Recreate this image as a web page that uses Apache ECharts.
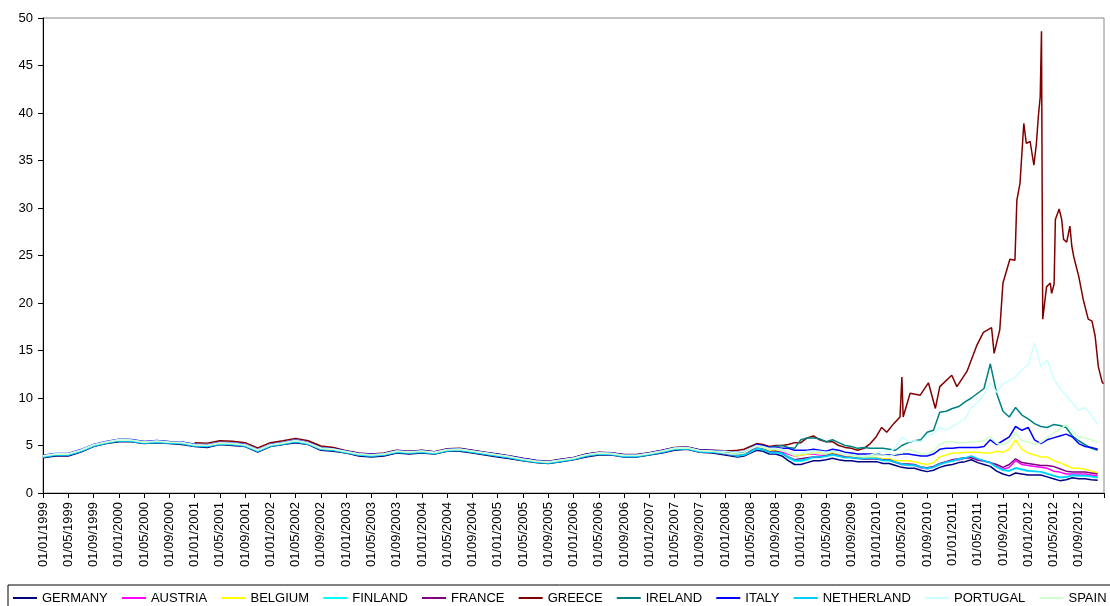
<!DOCTYPE html>
<html>
<head>
<meta charset="utf-8">
<title>10Y government bond yields</title>
<script src="https://cdn.jsdelivr.net/npm/echarts/dist/echarts.min.js"></script>
<style>
  html, body { margin: 0; padding: 0; background: #fff; }
  #chart { width: 1110px; height: 606px; }
</style>
</head>
<body>
<div id="chart"></div>
<script>
// x = months since 01/01/1999; bi-monthly to end 2007, monthly 2008-2012
const months = [];
for (let m = 0; m <= 106; m += 2) months.push(m);
for (let m = 108; m <= 167; m++) months.push(m);

const tickLabels = [];
for (let y = 1999; y <= 2012; y++) {
  for (const mm of ["01", "05", "09"]) tickLabels.push("01/" + mm + "/" + y);
}

const germany = [
  3.7,3.9,3.9,4.3,4.9,5.2,5.4,5.4,5.2,5.3,5.2,5.1,4.9,4.8,5.1,5.0,4.9,4.3,4.9,5.1,5.3,5.1,4.5,4.4,4.2,3.9,3.8,
  3.9,4.2,4.1,4.2,4.1,4.4,4.4,4.2,4.0,3.8,3.6,3.4,3.2,3.1,3.3,3.5,3.8,4.0,4.0,3.8,3.8,4.0,4.2,4.5,4.6,4.3,4.2,
  4.0,3.9,3.8,3.9,4.2,4.5,4.4,4.1,4.1,3.9,3.4,3.0,
  3.0,3.2,3.4,3.4,3.5,3.65,3.5,3.4,3.4,3.3,3.3,3.3,
  3.3,3.1,3.1,2.9,2.7,2.6,2.6,2.4,2.25,2.4,2.7,2.9,
  3.0,3.2,3.3,3.5,3.2,3.0,2.8,2.3,2.0,1.8,2.1,2.0,
  1.9,1.9,1.9,1.7,1.5,1.3,1.4,1.6,1.5,1.5,1.4,1.35
];
const austria = [
  3.87,4.07,4.07,4.47,5.02,5.32,5.57,5.52,5.32,5.42,5.32,5.27,5.02,4.97,5.22,5.17,5.02,4.47,5.02,5.22,5.47,5.22,4.67,4.57,4.32,4.07,3.97,
  4.07,4.37,4.27,4.37,4.22,4.52,4.57,4.37,4.17,3.97,3.77,3.52,3.32,3.22,3.42,3.62,3.97,4.17,4.12,3.92,3.92,4.12,4.37,4.67,4.72,4.42,4.37,
  4.15,4.05,4.0,4.1,4.4,4.75,4.6,4.35,4.4,4.3,4.1,3.9,
  4.0,4.1,4.1,4.0,4.0,4.15,4.0,3.85,3.75,3.65,3.6,3.6,
  3.6,3.45,3.45,3.2,3.0,2.95,2.9,2.65,2.55,2.7,3.0,3.25,
  3.4,3.5,3.65,3.75,3.45,3.35,3.2,2.8,2.5,2.7,3.4,3.0,
  2.9,2.8,2.7,2.6,2.3,2.2,2.0,2.0,2.0,2.0,1.9,1.8
];
const belgium = [
  3.90,4.10,4.10,4.50,5.05,5.35,5.60,5.55,5.35,5.45,5.35,5.30,5.05,5.00,5.25,5.20,5.05,4.50,5.05,5.25,5.50,5.25,4.70,4.60,4.35,4.10,4.00,
  4.10,4.40,4.30,4.40,4.25,4.55,4.60,4.40,4.20,4.00,3.80,3.55,3.35,3.25,3.45,3.65,4.00,4.20,4.15,3.95,3.95,4.15,4.40,4.70,4.75,4.45,4.40,
  4.2,4.15,4.1,4.2,4.55,4.9,4.75,4.5,4.5,4.5,4.3,3.9,
  4.0,4.1,4.2,4.2,4.1,4.2,4.0,3.8,3.8,3.7,3.8,3.8,
  3.7,3.6,3.6,3.4,3.4,3.4,3.3,3.1,3.0,3.2,3.8,4.0,
  4.2,4.2,4.3,4.3,4.3,4.2,4.2,4.4,4.3,4.6,5.6,4.6,
  4.2,4.0,3.8,3.8,3.4,3.2,2.9,2.6,2.6,2.5,2.3,2.1
];
const finland = [
  3.83,4.03,4.03,4.43,4.98,5.28,5.53,5.48,5.28,5.38,5.28,5.23,4.98,4.93,5.18,5.13,4.98,4.43,4.98,5.18,5.43,5.18,4.63,4.53,4.28,4.03,3.93,
  4.03,4.33,4.23,4.33,4.18,4.48,4.53,4.33,4.13,3.93,3.73,3.48,3.28,3.18,3.38,3.58,3.93,4.13,4.08,3.88,3.88,4.08,4.33,4.63,4.68,4.38,4.33,
  4.1,4.0,3.9,4.0,4.3,4.65,4.55,4.25,4.25,4.1,3.7,3.35,
  3.35,3.5,3.75,3.75,3.85,4.0,3.85,3.7,3.7,3.6,3.6,3.6,
  3.6,3.4,3.4,3.2,3.0,2.9,2.9,2.7,2.55,2.7,3.0,3.2,
  3.35,3.55,3.65,3.85,3.55,3.35,3.15,2.7,2.4,2.3,2.6,2.45,
  2.3,2.25,2.2,2.0,1.8,1.6,1.65,1.85,1.8,1.8,1.7,1.6
];
const france = [
  3.81,4.01,4.01,4.41,4.96,5.26,5.51,5.46,5.26,5.36,5.26,5.21,4.96,4.91,5.16,5.11,4.96,4.41,4.96,5.16,5.41,5.16,4.61,4.51,4.26,4.01,3.91,
  4.01,4.31,4.21,4.31,4.16,4.46,4.51,4.31,4.11,3.91,3.71,3.46,3.26,3.16,3.36,3.56,3.91,4.11,4.06,3.86,3.86,4.06,4.31,4.61,4.66,4.36,4.31,
  4.1,4.0,4.0,4.1,4.4,4.8,4.6,4.35,4.4,4.2,3.8,3.5,
  3.6,3.7,3.8,3.8,3.95,4.1,3.95,3.8,3.75,3.65,3.6,3.6,
  3.6,3.5,3.5,3.25,3.05,3.05,3.0,2.75,2.65,2.8,3.1,3.3,
  3.5,3.6,3.7,3.7,3.5,3.4,3.2,3.0,2.7,3.0,3.6,3.2,
  3.1,3.0,2.9,2.9,2.8,2.55,2.3,2.2,2.2,2.2,2.1,2.0
];
const ireland = [
  3.79,3.99,3.99,4.39,4.94,5.24,5.49,5.44,5.24,5.34,5.24,5.19,4.94,4.89,5.14,5.09,4.94,4.39,4.94,5.14,5.39,5.14,4.59,4.49,4.24,3.99,3.89,
  3.99,4.29,4.19,4.29,4.14,4.44,4.49,4.29,4.09,3.89,3.69,3.44,3.24,3.14,3.34,3.54,3.89,4.09,4.04,3.84,3.84,4.04,4.29,4.59,4.64,4.34,4.29,
  4.3,4.3,4.2,4.3,4.6,5.0,4.9,4.8,4.9,5.0,4.8,4.7,
  5.6,5.8,5.8,5.7,5.4,5.6,5.3,5.0,4.9,4.7,4.8,4.7,
  4.7,4.7,4.6,4.5,5.0,5.3,5.5,5.6,6.4,6.6,8.5,8.6,
  8.9,9.1,9.6,10.0,10.5,11.0,13.6,10.5,8.6,8.0,9.0,8.2,
  7.8,7.3,7.0,6.9,7.2,7.1,6.9,6.0,5.5,5.1,4.7,4.5
];
const italy = [
  3.97,4.17,4.17,4.57,5.12,5.42,5.67,5.62,5.42,5.52,5.42,5.37,5.12,5.07,5.32,5.27,5.12,4.57,5.12,5.32,5.57,5.32,4.77,4.67,4.42,4.17,4.07,
  4.17,4.47,4.37,4.47,4.32,4.62,4.67,4.47,4.27,4.07,3.87,3.62,3.42,3.32,3.52,3.72,4.07,4.27,4.22,4.02,4.02,4.22,4.47,4.77,4.82,4.52,4.47,
  4.4,4.3,4.3,4.4,4.7,5.1,5.0,4.8,4.8,4.7,4.7,4.5,
  4.5,4.5,4.6,4.5,4.4,4.6,4.5,4.3,4.2,4.1,4.1,4.1,
  4.1,4.0,4.0,4.0,4.1,4.1,4.0,3.9,3.9,4.1,4.6,4.7,
  4.7,4.8,4.8,4.8,4.8,4.9,5.6,5.1,5.5,5.9,7.0,6.6,
  6.9,5.6,5.2,5.6,5.8,6.0,6.2,5.9,5.2,4.9,4.8,4.6
];
const netherland = [
  3.80,4.00,4.00,4.40,4.95,5.25,5.50,5.45,5.25,5.35,5.25,5.20,4.95,4.90,5.15,5.10,4.95,4.40,4.95,5.15,5.40,5.15,4.60,4.50,4.25,4.00,3.90,
  4.00,4.30,4.20,4.30,4.15,4.45,4.50,4.30,4.10,3.90,3.70,3.45,3.25,3.15,3.35,3.55,3.90,4.10,4.05,3.85,3.85,4.05,4.30,4.60,4.65,4.35,4.30,
  4.15,4.05,3.95,4.05,4.35,4.7,4.6,4.3,4.3,4.2,3.8,3.45,
  3.45,3.6,3.8,3.8,3.9,4.05,3.9,3.75,3.75,3.65,3.65,3.65,
  3.65,3.45,3.45,3.25,3.05,2.95,2.95,2.75,2.6,2.75,3.05,3.25,
  3.4,3.6,3.7,3.9,3.6,3.4,3.2,2.75,2.45,2.35,2.65,2.5,
  2.35,2.3,2.25,2.05,1.85,1.65,1.7,1.9,1.85,1.85,1.75,1.65
];
const portugal = [
  3.93,4.13,4.13,4.53,5.08,5.38,5.63,5.58,5.38,5.48,5.38,5.33,5.08,5.03,5.28,5.23,5.08,4.53,5.08,5.28,5.53,5.28,4.73,4.63,4.38,4.13,4.03,
  4.13,4.43,4.33,4.43,4.28,4.58,4.63,4.43,4.23,4.03,3.83,3.58,3.38,3.28,3.48,3.68,4.03,4.23,4.18,3.98,3.98,4.18,4.43,4.73,4.78,4.48,4.43,
  4.4,4.3,4.3,4.4,4.7,5.0,4.9,4.7,4.7,4.6,4.3,4.0,
  4.2,4.4,4.4,4.4,4.3,4.4,4.3,4.1,4.0,3.9,3.9,4.0,
  4.2,4.5,4.3,4.8,5.9,5.4,5.5,5.4,6.1,6.2,6.9,6.6,
  7.0,7.4,7.8,9.0,9.5,10.4,11.6,10.6,11.5,11.8,12.2,13.0,
  13.5,15.8,13.3,14.0,12.1,11.0,10.3,9.5,8.7,9.0,8.2,7.2
];
const spain = [
  3.89,4.09,4.09,4.49,5.04,5.34,5.59,5.54,5.34,5.44,5.34,5.29,5.04,4.99,5.24,5.19,5.04,4.49,5.04,5.24,5.49,5.24,4.69,4.59,4.34,4.09,3.99,
  4.09,4.39,4.29,4.39,4.24,4.54,4.59,4.39,4.19,3.99,3.79,3.54,3.34,3.24,3.44,3.64,3.99,4.19,4.14,3.94,3.94,4.14,4.39,4.69,4.74,4.44,4.39,
  4.2,4.1,4.1,4.2,4.6,4.9,4.8,4.6,4.6,4.5,4.2,4.0,
  4.1,4.2,4.2,4.1,4.1,4.4,4.2,4.0,4.0,3.9,3.8,3.9,
  4.0,4.0,3.9,4.1,4.2,4.6,4.4,4.1,4.1,4.4,5.1,5.4,
  5.4,5.3,5.3,5.4,5.4,5.5,5.9,5.2,5.1,5.4,6.4,5.5,
  5.4,5.1,5.3,5.8,6.3,6.7,7.2,6.5,5.9,5.8,5.6,5.3
];

// Greece joins in 2001; its 2010-2012 path is read at finer steps
const greeceMonths = [];
for (let m = 24; m <= 106; m += 2) greeceMonths.push(m);
for (let m = 108; m <= 131; m++) greeceMonths.push(m);
greeceMonths.push(
  131.9,132.8,133.6,134.7,135.7,136,136.2,137.3,138.9,140.2,141.3,142,143.9,144.7,146.3,147.9,148.9,150.2,150.6,
  151.5,152,153.1,153.9,154.2,154.7,155.3,155.7,156.3,156.9,157.3,157.6,157.9,158.1,158.3,158.9,159.5,159.7,
  160.1,160.3,160.9,161.3,161.6,162.1,162.6,162.9,163.2,164,164.7,165.5,166.1,166.6,167.1,167.7,167.9
);
const greece = [
  5.3,5.25,5.5,5.45,5.3,4.75,5.3,5.5,5.75,5.5,4.95,4.8,4.45,4.2,4.1,4.2,4.5,4.4,4.5,4.35,4.65,
  4.7,4.5,4.3,4.1,3.9,3.65,3.45,3.35,3.55,3.75,4.1,4.3,4.25,4.05,4.05,4.25,4.5,4.8,4.85,4.55,4.5,
  4.45,4.45,4.5,4.6,4.9,5.2,5.1,4.9,5.0,5.0,5.1,5.3,
  5.3,5.8,6.0,5.6,5.4,5.4,5.0,4.8,4.7,4.5,4.7,5.2,
  5.9,6.9,6.4,7.3,8.0,12.2,8.0,10.5,10.3,11.6,8.9,11.2,12.4,11.2,12.8,15.6,16.9,17.4,14.7,
  17.2,22.1,24.6,24.5,30.8,32.6,38.9,36.8,37,34.5,36.8,39.6,41.7,48.6,18.3,21.7,22.1,21,
  22,28.8,29.9,28.8,26.7,26.4,28.1,26,24.9,22.8,20.4,18.3,18.1,16.5,13.3,11.7,11.5
];

const countries = [
  ["GERMANY", germany, "#000080"],
  ["AUSTRIA", austria, "#FF00FF"],
  ["BELGIUM", belgium, "#FFFF00"],
  ["FINLAND", finland, "#00FFFF"],
  ["FRANCE", france, "#800080"],
  ["GREECE", greece, "#800000"],
  ["IRELAND", ireland, "#008080"],
  ["ITALY", italy, "#0000FF"],
  ["NETHERLAND", netherland, "#00CCFF"],
  ["PORTUGAL", portugal, "#CCFFFF"],
  ["SPAIN", spain, "#CCFFCC"],
];

const font = "Arial, 'Liberation Sans', sans-serif";
const chart = echarts.init(document.getElementById("chart"));

const series = countries.map(([name, vals, color]) => {
  const xs = name === "GREECE" ? greeceMonths : months;
  return {
    name: name,
    type: "line",
    symbol: "none",
    color: color,
    lineStyle: { width: 1.5, color: color },
    data: xs.map((m, i) => [m, vals[i]]),
  };
});

chart.setOption({
  animation: false,
  backgroundColor: "#fff",
  grid: {
    left: 43,
    right: 6,
    top: 18,
    bottom: 113,
    show: true,
    borderColor: "#888",
    borderWidth: 1,
  },
  legend: {
    left: 8,
    top: 585,
    width: 1400,
    padding: [5, 6, 5, 5],
    icon: "rect",
    itemWidth: 24,
    itemHeight: 2,
    itemGap: 14.2,
    borderColor: "#000",
    borderWidth: 1,
    textStyle: { fontFamily: font, fontSize: 13, color: "#000", lineHeight: 16 },
    data: countries.map((c) => c[0]),
  },
  xAxis: {
    type: "value",
    min: 0,
    max: 168,
    interval: 4,
    splitLine: { show: false },
    axisLine: { lineStyle: { color: "#000", width: 1 } },
    axisTick: { length: 5, lineStyle: { color: "#000" } },
    axisLabel: {
      rotate: 90,
      margin: 9,
      fontFamily: font,
      fontSize: 13,
      color: "#000",
      formatter: (v) => (v < 168 && v % 4 === 0 ? tickLabels[v / 4] : ""),
    },
  },
  yAxis: {
    type: "value",
    min: 0,
    max: 50,
    interval: 5,
    splitLine: { show: false },
    axisLine: { show: true, lineStyle: { color: "#000", width: 1 } },
    axisTick: { show: true, length: 5, lineStyle: { color: "#000" } },
    axisLabel: { margin: 10, fontFamily: font, fontSize: 13, color: "#000" },
  },
  series: series,
});
</script>
</body>
</html>
